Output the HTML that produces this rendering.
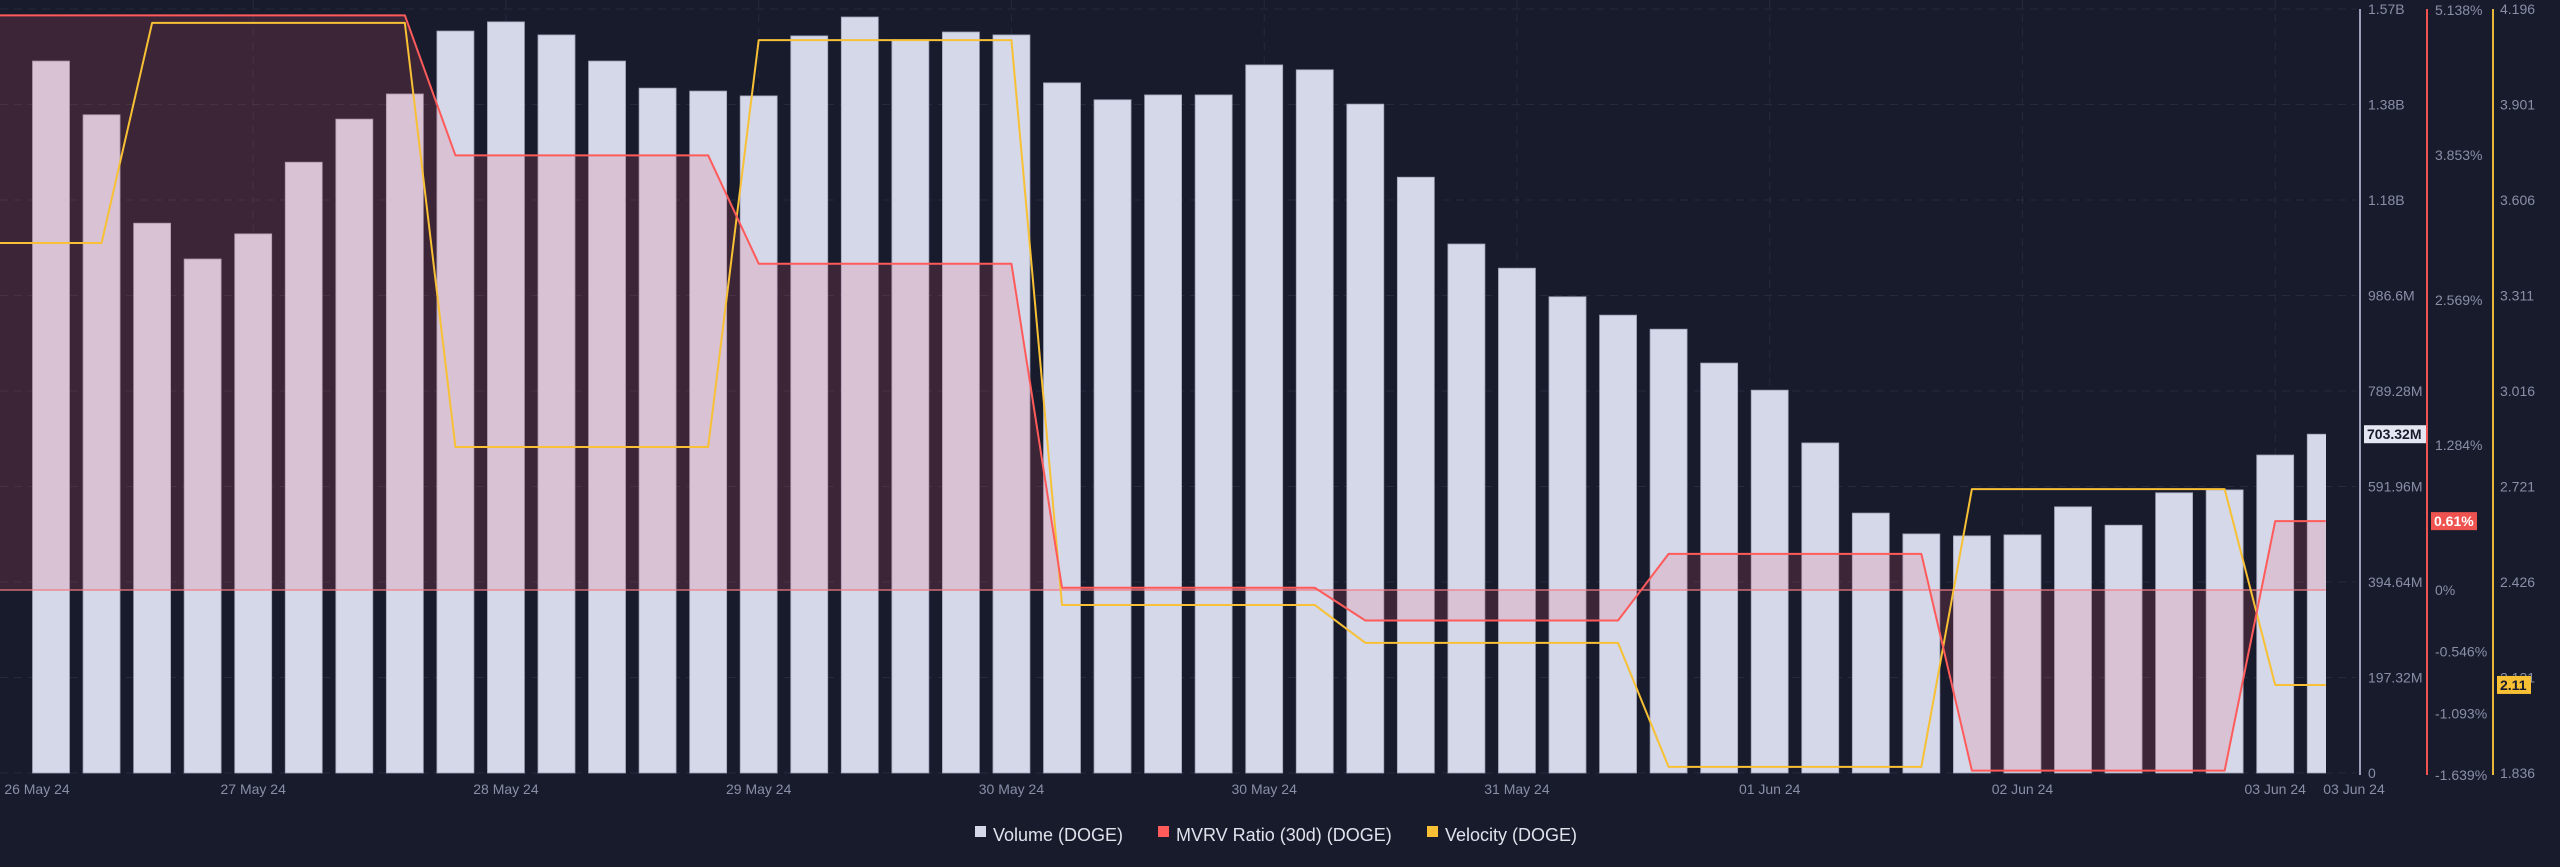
<!DOCTYPE html>
<html><head><meta charset="utf-8">
<style>
html,body{margin:0;padding:0;background:#181b2c;}
svg{display:block;font-family:"Liberation Sans",sans-serif;}
</style></head>
<body>
<svg id="chart" width="2560" height="867" viewBox="0 0 2560 867" xmlns="http://www.w3.org/2000/svg">
<rect x="0" y="0" width="2560" height="867" fill="#181b2c"/>
<defs><clipPath id="plotclip"><rect x="0" y="0" width="2326" height="800"/></clipPath></defs>
<g id="grid"></g>
<g id="plot" clip-path="url(#plotclip)"></g>
<g id="axes"></g>
<g id="legend">
  <g>
    <rect x="975" y="826" width="11" height="11" fill="#d4d8e8"/>
    <text x="993" y="841" font-size="18" fill="#e0e3eb">Volume (DOGE)</text>
  </g>
  <g>
    <rect x="1158" y="826" width="11" height="11" fill="#ff5b5b"/>
    <text x="1176" y="841" font-size="18" fill="#e0e3eb">MVRV Ratio (30d) (DOGE)</text>
  </g>
  <g>
    <rect x="1427" y="826" width="11" height="11" fill="#f7c035"/>
    <text x="1445" y="841" font-size="18" fill="#e0e3eb">Velocity (DOGE)</text>
  </g>
</g>
</svg>
<script>
const volume = [1471,1360,1136,1062,1114,1262,1351,1403,1533,1552,1525,1471,1415,1409,1399,1523,1562,1515,1531,1525,1426,1391,1401,1401,1463,1453,1382,1231,1093,1043,984,946,917,847,791,682,537,494,490,492,550,512,579,585,657,700];
const mvrv = [5.09,5.09,5.09,5.09,5.09,5.09,5.09,5.09,3.85,3.85,3.85,3.85,3.85,3.85,2.89,2.89,2.89,2.89,2.89,2.89,0.02,0.02,0.02,0.02,0.02,0.02,-0.27,-0.27,-0.27,-0.27,-0.27,-0.27,0.32,0.32,0.32,0.32,0.32,0.32,-1.60,-1.60,-1.60,-1.60,-1.60,-1.60,0.61,0.61];
const velocity = [3.473,3.473,4.153,4.153,4.153,4.153,4.153,4.153,2.843,2.843,2.843,2.843,2.843,2.843,4.10,4.10,4.10,4.10,4.10,4.10,2.355,2.355,2.355,2.355,2.355,2.355,2.238,2.238,2.238,2.238,2.238,2.238,1.855,1.855,1.855,1.855,1.855,1.855,2.713,2.713,2.713,2.713,2.713,2.713,2.108,2.108];
const volTicks = ["0","197.32M","394.64M","591.96M","789.28M","986.6M","1.18B","1.38B","1.57B"];
const mvrvTickVals = [5.138,3.853,2.569,1.284,0,-0.546,-1.093,-1.639];
const mvrvTicks = ["5.138%","3.853%","2.569%","1.284%","0%","-0.546%","-1.093%","-1.639%"];
const velTicks = ["1.836","2.131","2.426","2.721","3.016","3.311","3.606","3.901","4.196"];
const dateLabels = ["26 May 24","27 May 24","28 May 24","29 May 24","30 May 24","30 May 24","31 May 24","01 Jun 24","02 Jun 24","03 Jun 24"];
const dateIdx = [-0.28,4,9,14,19,24,29,34,39,44];

const NS="http://www.w3.org/2000/svg";
const x = i => 51 + i*50.55;
const yVol = v => 773 - v/1578.56*764;
const yMv = v => 590 - v*112.9;
const yVel = v => 773 - (v-1.836)/2.36*764;
function mk(tag, attrs, parent){const e=document.createElementNS(NS,tag);for(const k in attrs)e.setAttribute(k,attrs[k]);parent.appendChild(e);return e;}
const grid=document.getElementById('grid'), plot=document.getElementById('plot'), axes=document.getElementById('axes');

// horizontal grid
volTicks.forEach((t,k)=>{
  const y=yVol(k*197.32);
  const l=mk('line',{x1:0,x2:2356,y1:y,y2:y,stroke:'#262a3d','stroke-width':1,'stroke-dasharray':'8,6'},grid);
  
  
});
dateIdx.forEach(i=>{
  if(i<0) return;
  const l=mk('line',{x1:x(i),x2:x(i),y1:0,y2:773,stroke:'#262a3d','stroke-width':1,'stroke-dasharray':'8,6'},grid);
  
  
});

// bars
volume.forEach((v,i)=>{
  const b=mk('rect',{x:x(i)-18.5,y:yVol(v),width:37,height:773-yVol(v),fill:'#d4d8e8',stroke:'#9ea3b8','stroke-width':0.8},plot);
  
  
});

// mvrv area
let ap='M'+x(0)+','+yMv(0);
mvrv.forEach((v,i)=>{ap+=' L'+x(i)+','+yMv(v);});
ap+=' L'+x(mvrv.length-1)+','+yMv(0)+' Z';
let ap2='M-10,'+yMv(0)+' L-10,'+yMv(mvrv[0])+' L'+x(0)+','+yMv(mvrv[0])+' L'+x(0)+','+yMv(0)+' Z';
const ar=mk('path',{d:ap,fill:'rgba(236,90,110,0.17)'},plot);


const ar2=mk('path',{d:ap2,fill:'rgba(236,90,110,0.17)'},plot);


const zl=mk('line',{x1:0,x2:x(mvrv.length-1),y1:yMv(0),y2:yMv(0),stroke:'#f07c84','stroke-width':1.2},plot);



function linePath(arr,fy){let d='M-10,'+fy(arr[0]);arr.forEach((v,i)=>{d+=' L'+x(i)+','+fy(v);});return d;}
const vl=mk('path',{d:linePath(velocity,yVel),fill:'none',stroke:'#f7c035','stroke-width':2,'stroke-linejoin':'round'},plot);


const ml=mk('path',{d:linePath(mvrv,yMv),fill:'none',stroke:'#ff5b5b','stroke-width':2,'stroke-linejoin':'round'},plot);



// axis lines
const a1=mk('line',{x1:2360,x2:2360,y1:9,y2:775,stroke:'#9aa0b8','stroke-width':2},axes);


const a2=mk('line',{x1:2427,x2:2427,y1:9,y2:775,stroke:'#ef5350','stroke-width':2},axes);


const a3=mk('line',{x1:2493,x2:2493,y1:9,y2:775,stroke:'#e8b73a','stroke-width':2},axes);



volTicks.forEach((t,k)=>{
  const e=mk('text',{x:2368,y:yVol(k*197.32)+5,'font-size':14,fill:'#8a8fa8'},axes);e.textContent=t;
  
  
});
mvrvTicks.forEach((t,k)=>{
  const e=mk('text',{x:2435,y:yMv(mvrvTickVals[k])+5,'font-size':14,fill:'#8a8fa8'},axes);e.textContent=t;
  
  
});
velTicks.forEach((t,k)=>{
  const e=mk('text',{x:2500,y:yVol(k*197.32)+5,'font-size':14,fill:'#8a8fa8'},axes);e.textContent=t;
  
  
});
dateLabels.forEach((t,k)=>{
  const e=mk('text',{x:dateIdx[k]<0?37:x(dateIdx[k]),y:794,'font-size':14,fill:'#8a8fa8','text-anchor':'middle'},axes);e.textContent=t;
  
  
});
const lastLbl=mk('text',{x:2354,y:794,'font-size':14,fill:'#8a8fa8','text-anchor':'middle'},axes);lastLbl.textContent='03 Jun 24';



// value badges
function badge(bx,by,w,bg,fg,txt,name){
  const g=mk('g',{},axes);
  
  
  mk('rect',{x:bx,y:by-9,width:w,height:18,fill:bg},g);
  const t=mk('text',{x:bx+3,y:by+5,'font-size':14,fill:fg,'font-weight':'bold'},g);t.textContent=txt;
}
const lv=volume[volume.length-1], lm=mvrv[mvrv.length-1], lvel=velocity[velocity.length-1];
badge(2364,yVol(lv),62,'#e4e7f2','#181b2c','703.32M','volume-last-value');
badge(2431,yMv(lm),46,'#ef5350','#ffffff','0.61%','mvrv-last-value');
badge(2497,yVel(lvel),34,'#f7c035','#181b2c','2.11','velocity-last-value');
</script>
</body></html>
